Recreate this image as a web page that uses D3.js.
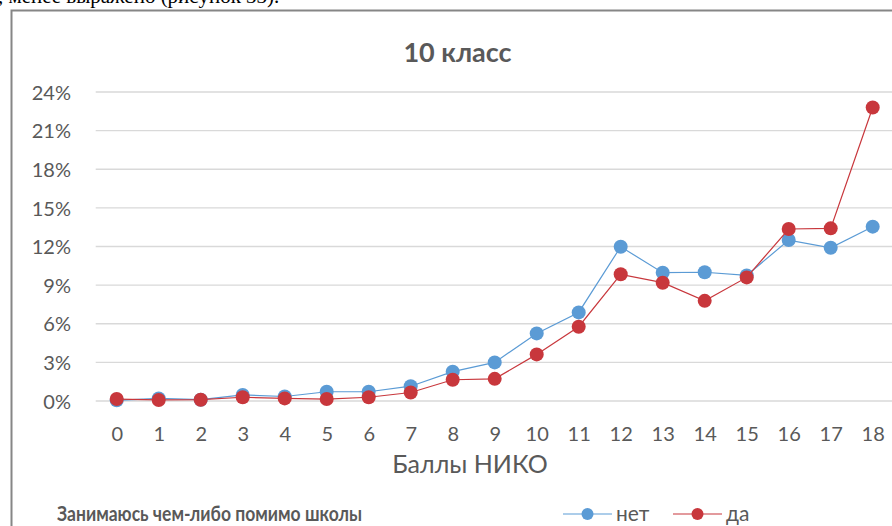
<!DOCTYPE html>
<html>
<head>
<meta charset="utf-8">
<script src="https://cdn.jsdelivr.net/npm/d3@7"></script>
<style>
  html, body { margin: 0; padding: 0; background: #fff; overflow: hidden; }
  svg { display: block; }
</style>
</head>
<body>
<svg id="chart" width="892" height="526"></svg>
<script>
// ---- data ----
const categories = ["0","1","2","3","4","5","6","7","8","9","10","11","12","13","14","15","16","17","18"];
const seriesNet = [0.05, 0.2, 0.1, 0.47, 0.35, 0.72, 0.72, 1.15, 2.28, 3.0, 5.25, 6.88, 11.98, 9.97, 10.0, 9.75, 12.5, 11.9, 13.54];
const seriesDa  = [0.15, 0.08, 0.1, 0.29, 0.2, 0.15, 0.29, 0.66, 1.65, 1.72, 3.62, 5.77, 9.84, 9.19, 7.78, 9.6, 13.36, 13.41, 22.8];
const yTicks = [0, 3, 6, 9, 12, 15, 18, 21, 24];
const seriesNames = ["нет", "да"];
const chartTitle = "10 класс";
const xAxisTitle = "Баллы НИКО";
const legendTitle = "Занимаюсь чем-либо помимо школы";
const docText = ", менее выражено (рисунок 33).";

const colors = { "нет": "#5b9bd5", "да": "#c8373c" };
const textColor = "#595959";
const font = "Lato, 'Open Sans', sans-serif";

const svg = d3.select("#chart");

// document text cut at top
svg.append("text")
  .attr("x", -2).attr("y", 3)
  .attr("font-family", "'Liberation Serif', serif")
  .attr("font-size", 21)
  .attr("fill", "#000")
  .text(docText);

// chart frame (extends beyond the window on right and bottom)
svg.append("rect")
  .attr("x", 11.5).attr("y", 10.5)
  .attr("width", 1000).attr("height", 600)
  .attr("fill", "#fff")
  .attr("stroke", "#868686")
  .attr("stroke-width", 2);

// scales
const x = d3.scalePoint().domain(categories).range([95.7, 893.7]).padding(0.5);
const y = d3.scaleLinear().domain([0, 24]).range([401, 92]);

// gridlines
const grid = svg.append("g");
grid.selectAll("line").data(yTicks).join("line")
  .attr("x1", 95.7).attr("x2", 893.7)
  .attr("y1", d => y(d)).attr("y2", d => y(d))
  .attr("stroke", "#d9d9d9").attr("stroke-width", 1.3);

// y axis labels
const yAxis = d3.axisLeft(y).tickValues(yTicks).tickFormat(d => d + "%").tickSize(0).tickPadding(0);
const gy = svg.append("g").attr("transform", "translate(71,0)").call(yAxis);
gy.select(".domain").remove();
gy.selectAll("text")
  .attr("font-family", font).attr("font-size", 20).attr("fill", textColor)
  .attr("dy", "0.36em");

// x axis labels
const xAxis = d3.axisBottom(x).tickSize(0).tickPadding(0);
const gx = svg.append("g").attr("transform", "translate(0,427)").call(xAxis);
gx.select(".domain").remove();
gx.selectAll("text")
  .attr("font-family", font).attr("font-size", 20).attr("fill", textColor);

// title
svg.append("text")
  .attr("x", 457.5).attr("y", 62)
  .attr("text-anchor", "middle")
  .attr("font-family", font).attr("font-weight", "bold")
  .attr("font-size", 27).attr("fill", textColor)
  .text(chartTitle);

// x axis title
svg.append("text")
  .attr("x", 470).attr("y", 473)
  .attr("text-anchor", "middle")
  .attr("font-family", font).attr("font-size", 25).attr("fill", textColor)
  .text(xAxisTitle);

// series
const data = [
  { name: "нет", values: seriesNet },
  { name: "да", values: seriesDa }
];
const line = d3.line().x((d, i) => x(categories[i])).y(d => y(d));

data.forEach(s => {
  const g = svg.append("g");
  g.append("path")
    .attr("d", line(s.values))
    .attr("fill", "none")
    .attr("stroke", colors[s.name])
    .attr("stroke-width", 1.2);
  g.selectAll("circle").data(s.values).join("circle")
    .attr("cx", (d, i) => x(categories[i]))
    .attr("cy", d => y(d))
    .attr("r", 7)
    .attr("fill", colors[s.name]);
});

// legend
svg.append("text")
  .attr("x", 57).attr("y", 521)
  .attr("font-family", font).attr("font-weight", "bold")
  .attr("font-size", 20).attr("fill", textColor)
  .attr("textLength", 305).attr("lengthAdjust", "spacingAndGlyphs")
  .text(legendTitle);

const legendItems = [
  { name: "нет", x0: 563 },
  { name: "да", x0: 673 }
];
legendItems.forEach(it => {
  const g = svg.append("g");
  g.append("line")
    .attr("x1", it.x0).attr("x2", it.x0 + 49)
    .attr("y1", 514).attr("y2", 514)
    .attr("stroke", colors[it.name]).attr("stroke-width", 1.2);
  g.append("circle")
    .attr("cx", it.x0 + 24.5).attr("cy", 514).attr("r", 6)
    .attr("fill", colors[it.name]);
  g.append("text")
    .attr("x", it.x0 + 53).attr("y", 521)
    .attr("font-family", font).attr("font-size", 21).attr("fill", textColor)
    .text(it.name);
});
</script>
</body>
</html>
